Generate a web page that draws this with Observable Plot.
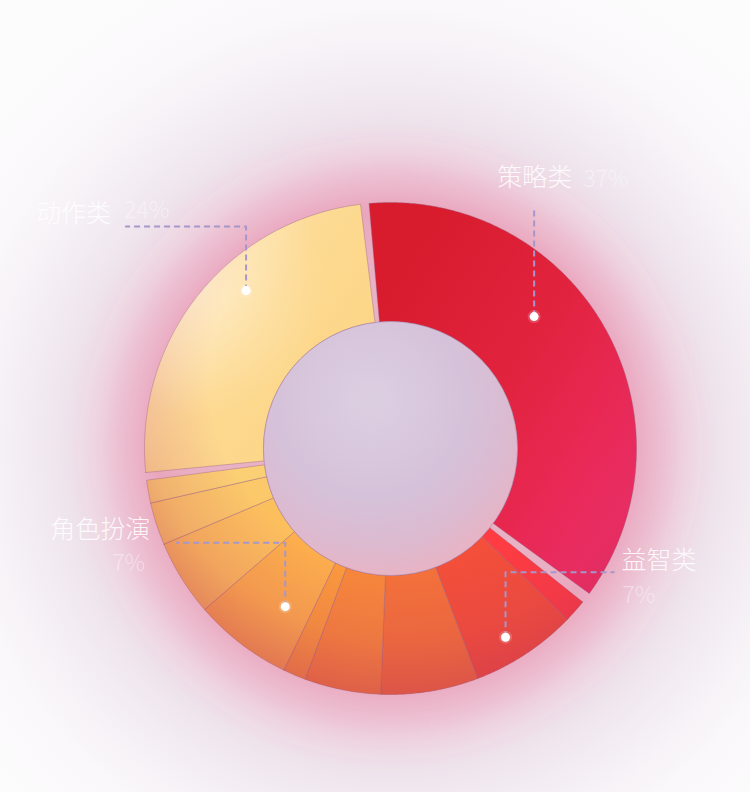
<!DOCTYPE html>
<html>
<head>
<meta charset="utf-8">
<script src="https://cdn.jsdelivr.net/npm/d3@7"></script>
<script src="https://cdn.jsdelivr.net/npm/@observablehq/plot@0.6"></script>
<style>
html, body { margin: 0; padding: 0; width: 750px; height: 792px; overflow: hidden; }
body {
  background: radial-gradient(circle at 392px 446px,
    #e8b0c4 0px, #e9b2c5 236px, #ecc4d3 256px, #eed6e2 290px,
    #eee3ec 325px, #f4eef4 375px, #faf8fa 440px, #fdfcfd 520px);
}
#chart svg { display: block; }
</style>
</head>
<body>
<div id="chart"></div>
<script>
// ---- data (clockwise from the top) ----
const categories = ["策略类", null, "益智类", null, null, null, "角色扮演", null, null, null, "动作类"];
const values     = [36.4, 1.5, 7.0, 6.4, 5.0, 1.5, 6.5, 5.0, 2.8, 1.5, 24.6];
const labelNames    = ["策略类", "益智类", "角色扮演", "动作类"];
const labelPercents = ["37%", "7%", "7%", "24%"];

// ---- styles / layout ----
const palette = ["url(#gRed)", "#FF3C42", "#F34F3A", "#F4723A", "#F8883B", "#FB9B3D",
                 "#FDAF4D", "#FCBF5E", "#FBC86A", "#FBCF74", "url(#gYellow)"];
const gapAfter = [2.5, 0, 0, 0, 0, 0, 0, 0, 0, 1.8, 2.0]; // degrees
const startAngle = -5;
const W = 750, H = 792;
const cx = 390, cy = 448, innerR = 127, outerR = 246;

const labelLayout = {
  "策略类":  {frac: 0.40, r: 195, bend: [0, -109],   name: [-37, -22, "start"], pct: [49, -21, "start"]},
  "益智类":  {frac: 0.58, r: 221, bend: [109, -65],  name: [7, -3, "start"],    pct: [8, 31, "start"]},
  "角色扮演": {frac: 0.34, r: 190, bend: [-109, -64], name: [-26, -5, "end"],    pct: [-31, 28, "end"]},
  "动作类":  {frac: 0.60, r: 214, bend: [-121, -64], name: [-14, -5, "end"],    pct: [-1, -9, "start"]}
};

// ---- geometry derived from the data ----
const k = (360 - d3.sum(gapAfter)) / d3.sum(values);
let acc = startAngle;
const slices = values.map((v, i) => {
  const a0 = acc, a1 = acc + v * k;
  acc = a1 + gapAfter[i];
  return {i, name: categories[i], value: v, a0, a1};
});
const polar = (a, r) => {
  const t = a * Math.PI / 180;
  return [cx + r * Math.sin(t), cy - r * Math.cos(t)];
};
const sliceRows = [];
for (const s of slices) {
  const n = Math.max(2, Math.ceil((s.a1 - s.a0) / 0.5));
  const pts = [];
  for (let j = 0; j <= n; j++) pts.push(polar(s.a0 + (s.a1 - s.a0) * j / n, outerR));
  for (let j = n; j >= 0; j--) pts.push(polar(s.a0 + (s.a1 - s.a0) * j / n, innerR));
  pts.push(pts[0]);
  for (const [x, y] of pts) sliceRows.push({id: s.i, x, y, color: palette[s.i]});
}

const dots = [], legRows = [], nameRows = [], pctRows = [];
labelNames.forEach((name, li) => {
  const s = slices.find(d => d.name === name);
  const L = labelLayout[name];
  const [dx, dy] = polar(s.a0 + (s.a1 - s.a0) * L.frac, L.r);
  dots.push({x: dx, y: dy});
  const ex = dx + L.bend[0], ey = dy + L.bend[1];
  legRows.push({name, x: dx, y: dy}, {name, x: dx, y: ey}, {name, x: ex, y: ey});
  nameRows.push({x: ex + L.name[0], y: ey + L.name[1], anchor: L.name[2], text: name});
  pctRows.push({x: ex + L.pct[0], y: ey + L.pct[1], anchor: L.pct[2], text: labelPercents[li]});
});

const font = '"Noto Sans CJK SC", "Noto Sans", sans-serif';

const svg = Plot.plot({
  width: W, height: H,
  margin: 0,
  style: {background: "transparent", overflow: "visible"},
  x: {domain: [0, W], range: [0, W], axis: null},
  y: {domain: [0, H], range: [0, H], axis: null},
  color: {type: "identity"},
  marks: [
    // soft glow around the ring
    Plot.dot([{x: cx, y: cy}], {x: "x", y: "y", r: outerR + 4, fill: "none", stroke: "#ea6c98",
      strokeWidth: 36, strokeOpacity: 0.36}),
    // slices
    Plot.line(sliceRows, {x: "x", y: "y", z: "id", fill: "color", curve: "linear",
      stroke: "rgba(150,100,130,0.45)", strokeWidth: 0.9}),
    // rim shading
    Plot.line(sliceRows, {x: "x", y: "y", z: "id", fill: "url(#shade)", stroke: "none", curve: "linear"}),
    // top-left highlight
    Plot.line(sliceRows, {x: "x", y: "y", z: "id", fill: "url(#hl)", stroke: "none", curve: "linear"}),
    // inner disc
    Plot.dot([{x: cx, y: cy}], {x: "x", y: "y", r: innerR, fill: "url(#inner)",
      stroke: "rgba(160,120,160,0.6)", strokeWidth: 0.8}),
    // leader lines
    Plot.line(legRows, {x: "x", y: "y", z: "name", stroke: "#a597cb", strokeWidth: 2,
      strokeDasharray: "6,4", strokeLinecap: "butt", curve: "linear"}),
    Plot.dot(dots, {x: "x", y: "y", r: 6.5, fill: "white", fillOpacity: 0.18}),
    Plot.dot(dots, {x: "x", y: "y", r: 4.5, fill: "white"}),
    // labels
    Plot.text(nameRows, {filter: d => d.anchor === "start", x: "x", y: "y", text: "text",
      textAnchor: "start", lineAnchor: "bottom", fontSize: 25, fontFamily: font, fontWeight: 300,
      fill: "white", fillOpacity: 0.88}),
    Plot.text(nameRows, {filter: d => d.anchor === "end", x: "x", y: "y", text: "text",
      textAnchor: "end", lineAnchor: "bottom", fontSize: 25, fontFamily: font, fontWeight: 300,
      fill: "white", fillOpacity: 0.88}),
    Plot.text(pctRows, {filter: d => d.anchor === "start", x: "x", y: "y", text: "text",
      textAnchor: "start", lineAnchor: "bottom", fontSize: 23, fontFamily: font, fontWeight: 300,
      fill: "white", fillOpacity: 0.42}),
    Plot.text(pctRows, {filter: d => d.anchor === "end", x: "x", y: "y", text: "text",
      textAnchor: "end", lineAnchor: "bottom", fontSize: 23, fontFamily: font, fontWeight: 300,
      fill: "white", fillOpacity: 0.42})
  ]
});

// gradients & filters
const defs = d3.select(svg).insert("defs", ":first-child");
function lin(id, x1, y1, x2, y2, stops) {
  const g = defs.append("linearGradient").attr("id", id).attr("gradientUnits", "userSpaceOnUse")
    .attr("x1", x1).attr("y1", y1).attr("x2", x2).attr("y2", y2);
  stops.forEach(([o, c, op]) => g.append("stop").attr("offset", o).attr("stop-color", c).attr("stop-opacity", op ?? 1));
}
function rad(id, gx, gy, r, stops) {
  const g = defs.append("radialGradient").attr("id", id).attr("gradientUnits", "userSpaceOnUse")
    .attr("cx", gx).attr("cy", gy).attr("r", r);
  stops.forEach(([o, c, op]) => g.append("stop").attr("offset", o).attr("stop-color", c).attr("stop-opacity", op ?? 1));
}
lin("gRed", 380, 300, 640, 470, [[0, "#D81C2D"], [0.5, "#E2233F"], [1, "#EF2C63"]]);
lin("gYellow", 170, 270, 360, 400, [[0, "#FEE5B6"], [0.45, "#FDDA92"], [1, "#FCD584"]]);
rad("shade", 400, 375, 330, [[0, "#C0305A", 0], [0.58, "#C0305A", 0], [0.8, "#C0305A", 0.18], [1, "#BE3058", 0.5]]);
rad("hl", 195, 285, 130, [[0, "#FFFFFF", 0.38], [1, "#FFFFFF", 0]]);
rad("inner", 370, 400, 175, [[0, "#DDCFE2"], [0.55, "#D5C2DA"], [0.82, "#DCBAD0"], [1, "#E7B4C5"]]);
const f = defs.append("filter").attr("id", "blur").attr("filterUnits", "userSpaceOnUse")
  .attr("x", 0).attr("y", 0).attr("width", W).attr("height", H);
f.append("feGaussianBlur").attr("stdDeviation", 26);
// apply blur to the glow ring (the circle whose radius is the outer radius + 4)
d3.select(svg).selectAll("circle")
  .filter(function() { return +this.getAttribute("r") === outerR + 4; })
  .attr("filter", "url(#blur)");

document.getElementById("chart").appendChild(svg);
</script>
</body>
</html>
